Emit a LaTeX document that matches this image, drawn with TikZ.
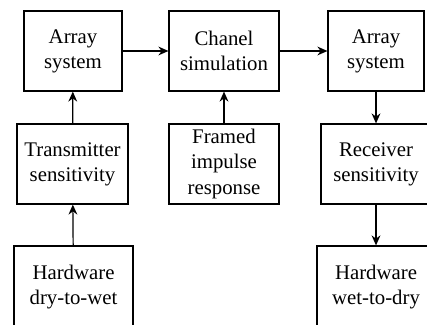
\documentclass[tikz,border=0pt]{standalone}
\usepackage{fontspec}
\setmainfont{Liberation Serif}
\usetikzlibrary{arrows.meta}

\begin{document}
\begin{tikzpicture}[x=0.5pt, y=-0.5pt,
	block/.style={draw, line width=0.6pt, shape=rectangle, align=center, minimum height=40pt, inner sep=2pt, font=\fontsize{10.4}{12.6}\selectfont},
	flow/.style={line width=0.6pt, -{Stealth[length=5pt, width=4.4pt]}}]
	% Frame and clip:
	\clip (0, 0) rectangle (427, 325);
	% Blocks:
	\node[block, minimum width=49pt] (arrTx) at (73, 51){Array\\system};
	\node[block, minimum width=55pt] (chanSim) at (224, 51){Chanel\\simulation};
	\node[block, minimum width=48pt] (arrRx) at (376, 51){Array\\system};
	\node[block, minimum width=55.5pt] (txSens) at (72.5, 164){Transmitter\\sensitivity};
	\node[block, minimum width=55pt] (framedIR) at (224, 164){Framed\\impulse\\response};
	\node[block, minimum width=55pt] (rxSens) at (376, 164){Receiver\\sensitivity};
	\node[block, minimum width=59.5pt, minimum height=41pt] (hwDryWet) at (73.5, 287){Hardware\\dry-to-wet};
	\node[block, minimum width=59pt, minimum height=41pt] (hwWetDry) at (376, 287){Hardware\\wet-to-dry};
	% Connectors:
	\draw[flow] (arrTx) -- (chanSim);
	\draw[flow] (chanSim) -- (arrRx);
	\draw[flow] (txSens) -- (arrTx);
	\draw[flow] (hwDryWet) -- (txSens);
	\draw[flow] (framedIR) -- (chanSim);
	\draw[flow] (arrRx) -- (rxSens);
	\draw[flow] (rxSens) -- (hwWetDry);
\end{tikzpicture}
\end{document}
